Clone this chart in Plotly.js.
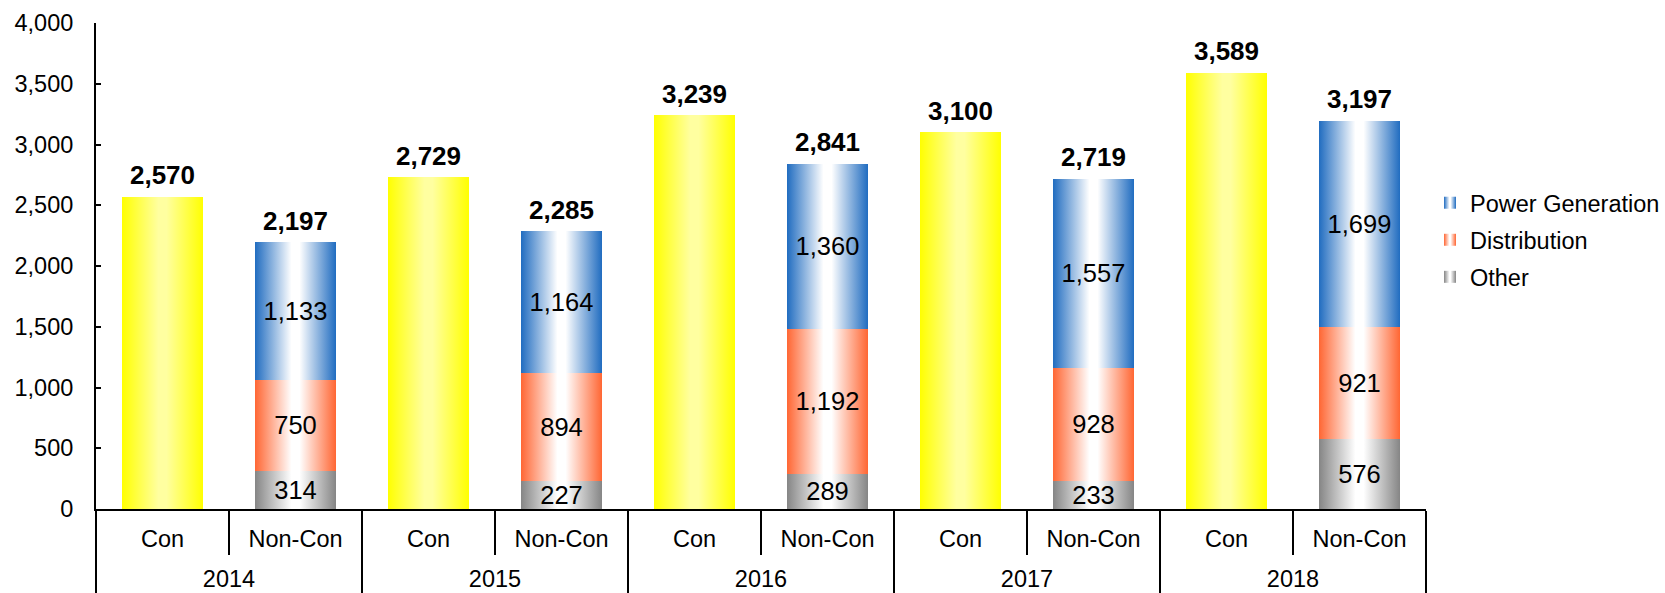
<!DOCTYPE html>
<html><head><meta charset="utf-8">
<script src="https://cdn.plot.ly/plotly-3.0.1.min.js"></script>
<style>html,body{margin:0;padding:0;background:#fff}</style>
</head><body>
<svg width="0" height="0" style="position:absolute">
<defs>
 <linearGradient id="gCon" x1="0" y1="0" x2="1" y2="0">
  <stop offset="0" stop-color="#FFFF00"/><stop offset="0.45" stop-color="#FFFFA0"/><stop offset="0.55" stop-color="#FFFFA0"/><stop offset="1" stop-color="#FFFF00"/>
 </linearGradient>
 <linearGradient id="gOther" x1="0" y1="0" x2="1" y2="0">
  <stop offset="0" stop-color="#858585"/><stop offset="0.45" stop-color="#FFFFFF"/><stop offset="0.55" stop-color="#FFFFFF"/><stop offset="1" stop-color="#858585"/>
 </linearGradient>
 <linearGradient id="gDist" x1="0" y1="0" x2="1" y2="0">
  <stop offset="0" stop-color="#FF6633"/><stop offset="0.45" stop-color="#FFFFFF"/><stop offset="0.55" stop-color="#FFFFFF"/><stop offset="1" stop-color="#FF6633"/>
 </linearGradient>
 <linearGradient id="gPower" x1="0" y1="0" x2="1" y2="0">
  <stop offset="0" stop-color="#206CC0"/><stop offset="0.45" stop-color="#FFFFFF"/><stop offset="0.55" stop-color="#FFFFFF"/><stop offset="1" stop-color="#206CC0"/>
 </linearGradient>
</defs></svg>
<div id="chart" style="width:1665px;height:593px"></div>
<script>
const years = ['2014', '2015', '2016', '2017', '2018'];
const conLabels = ['Con', 'Con', 'Con', 'Con', 'Con'];
const nonConLabels = ['Non-Con', 'Non-Con', 'Non-Con', 'Non-Con', 'Non-Con'];
const conValues = [2570, 2729, 3239, 3100, 3589];
const nonConTotals = [2197, 2285, 2841, 2719, 3197];
const otherValues = [314, 227, 289, 233, 576];
const distributionValues = [750, 894, 1192, 928, 921];
const powerValues = [1133, 1164, 1360, 1557, 1699];
const yTickValues = [0, 500, 1000, 1500, 2000, 2500, 3000, 3500, 4000];

const FONT = 'Liberation Sans, Arial, sans-serif';
const xCon = [years, conLabels];
const xNon = [years, nonConLabels];

const insideText = {family: FONT, size: 25.5, color: '#000'};
function stackTrace(name, vals, color, rank) {
  return {
    type: 'bar', name: name, x: xNon, y: vals, legendgroup: name, legendrank: rank,
    marker: {color: color, line: {width: 0}},
    texttemplate: '%{y:,}', textposition: 'inside', insidetextanchor: 'middle',
    textangle: 0, constraintext: 'none', textfont: insideText,
    hoverinfo: 'skip'
  };
}
function totalTrace(x, y) {
  return {type: 'scatter', mode: 'markers+text', x: x, y: y, texttemplate: '%{y:,}',
   textposition: 'top center', textfont: {family: FONT, size: 26, color: '#000', weight: 'bold'},
   marker: {size: 8, opacity: 0}, showlegend: false, hoverinfo: 'skip', cliponaxis: false};
}

const data = [
  {type: 'bar', name: 'Con', x: xCon, y: conValues, marker: {color: '#FFFF00', line: {width: 0}},
   showlegend: false, hoverinfo: 'skip'},
  stackTrace('Other', otherValues, '#858585', 3),
  stackTrace('Distribution', distributionValues, '#FF6633', 2),
  stackTrace('Power Generation', powerValues, '#206CC0', 1),
  totalTrace(xCon, conValues),
  totalTrace(xNon, nonConTotals)
];

const layout = {
  width: 1665, height: 593,
  margin: {l: 96, r: 239, t: 23, b: 84, autoexpand: false},
  paper_bgcolor: '#fff', plot_bgcolor: '#fff',
  font: {family: FONT, color: '#000', size: 23.5},
  barmode: 'stack', bargap: 0.39,
  showlegend: true,
  legend: {x: 1.003, xanchor: 'left', y: 0.675, yanchor: 'top', traceorder: 'grouped',
           tracegroupgap: 3.5,
           font: {family: FONT, size: 23.5, color: '#000'}, bgcolor: 'rgba(0,0,0,0)', itemwidth: 30},
  xaxis: {
    type: 'multicategory', autorange: false, range: [-0.5, 9.5],
    showline: true, linecolor: '#000', linewidth: 2,
    ticks: 'outside', tickson: 'boundaries', ticklen: 44, tickwidth: 2, tickcolor: '#000',
    ticklabelstandoff: 8,
    showdividers: true, dividercolor: '#000', dividerwidth: 2,
    showgrid: false, zeroline: false,
    tickfont: {family: FONT, size: 23.5, color: '#000'}
  },
  yaxis: {
    range: [0, 4000], tickvals: yTickValues, tickformat: ',',
    showline: true, linecolor: '#000', linewidth: 2,
    ticks: 'inside', ticklen: 5, tickwidth: 2, tickcolor: '#000',
    ticklabelstandoff: 16,
    showgrid: false, zeroline: false,
    tickfont: {family: FONT, size: 23.5, color: '#000'}
  }
};

const gradFor = {'Con': 'gCon', 'Other': 'gOther', 'Distribution': 'gDist', 'Power Generation': 'gPower'};
const YEAR_LABEL_SHIFT = 20;

Plotly.newPlot('chart', data, layout, {staticPlot: true}).then(function(gd) {
  gd.querySelectorAll('.barlayer .trace.bars').forEach(function(tr) {
    const cd = tr.__data__;
    const name = cd && cd[0] && cd[0].trace ? cd[0].trace.name : null;
    const id = gradFor[name];
    if (!id) return;
    tr.querySelectorAll('.point path').forEach(function(p) { p.style.fill = 'url(#' + id + ')'; });
  });
  gd.querySelectorAll('.legend .traces').forEach(function(t) {
    const txt = t.querySelector('.legendtext');
    const id = txt ? gradFor[txt.textContent] : null;
    if (!id) return;
    t.querySelectorAll('.legendpoints path').forEach(function(p) { p.style.fill = 'url(#' + id + ')'; });
  });
  // push the outer (year) label row a little lower, and lengthen the dividers with it
  gd.querySelectorAll('g.xtick2 text').forEach(function(t) {
    const old = t.getAttribute('transform') || '';
    t.setAttribute('transform', 'translate(0,' + YEAR_LABEL_SHIFT + ') ' + old);
  });
  gd.querySelectorAll('path.xdivider').forEach(function(p) {
    const d = p.getAttribute('d') || '';
    p.setAttribute('d', d.replace(/v(-?[\d.]+)/, function(m, v) { return 'v' + (parseFloat(v) + 40); }));
  });
});
</script>
</body></html>
